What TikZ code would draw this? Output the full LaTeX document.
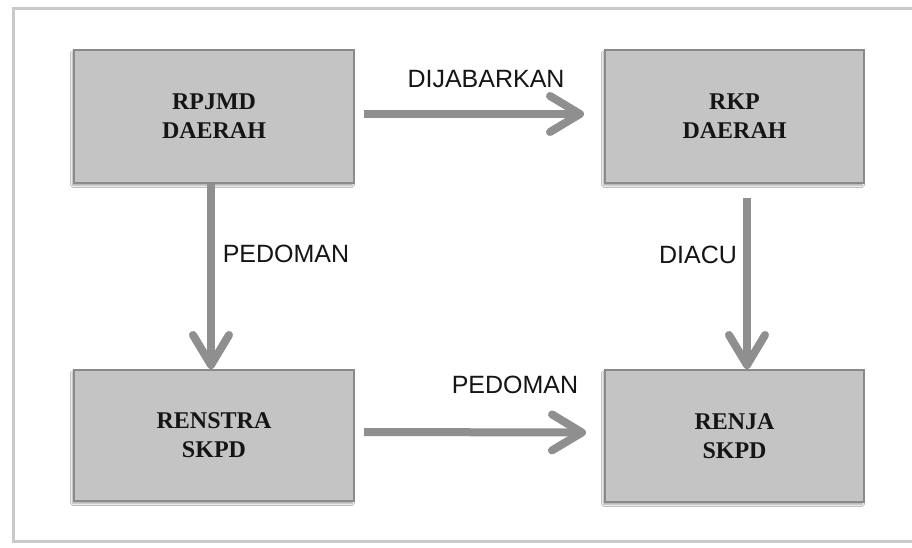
\documentclass[tikz,border=0pt]{standalone}
\usepackage{fontspec}
\setmainfont{Liberation Serif}
\setsansfont{Liberation Sans}
\usetikzlibrary{arrows.meta,shadows.blur}
\definecolor{boxfill}{HTML}{C4C4C4}
\definecolor{boxline}{HTML}{8A8A8A}
\definecolor{arrcol}{HTML}{8F8F8F}
\definecolor{framecol}{HTML}{C9C9C9}
\definecolor{txt}{HTML}{151515}
\tikzset{
  blok/.style={draw=boxline, fill=boxfill, line width=2pt, inner sep=0pt,
    minimum height=133pt, align=center, text=txt,
    font=\fontsize{24}{29}\selectfont\bfseries,
    blur shadow={shadow xshift=-1.5pt, shadow yshift=-2.5pt, shadow blur steps=6, shadow opacity=35}},
  arr/.style={draw=arrcol, line width=8pt,
    -{Straight Barb[length=30pt, width=36pt, round]}},
  lbl/.style={inner sep=0pt, text=txt, font=\sffamily\fontsize{25}{30}\selectfont}
}
\begin{document}
\begin{tikzpicture}[x=1pt, y=-1pt]
\useasboundingbox (0,0) rectangle (912,547);
\fill[white] (0,0) rectangle (912,547);
% outer frame
\draw[framecol, line width=3pt] (912,8) -- (13,8) -- (13,541) -- (912,541);
% boxes
\node[blok, minimum width=280pt] (A) at (214,116.5) {RPJMD\\DAERAH};
\node[blok, minimum width=259pt] (B) at (734.5,116.5) {RKP\\DAERAH};
\node[blok, minimum width=280pt, minimum height=131pt] (C) at (214,435.5) {RENSTRA\\SKPD};
\node[blok, minimum width=259pt, minimum height=132pt] (D) at (734.5,436) {RENJA\\SKPD};
% connectors
\draw[arr] ([xshift=9pt,yshift=2.5pt]A.east) -- ([xshift=-20pt,yshift=2.5pt]B.west);
\draw[arr] ([xshift=-3pt]A.south) -- ([xshift=-3pt]C.north);
\draw[arr] ([xshift=12.5pt,yshift=-14pt]B.south) -- ([xshift=12.5pt]D.north);
\draw[arr] ([xshift=9pt,yshift=3.5pt]C.east) -- ([xshift=-18pt,yshift=3.5pt]D.west);
% labels
\node[lbl] (l1) at (486,79) {DIJABARKAN};
\node[lbl] (l2) at (286,254) {PEDOMAN};
\node[lbl] (l3) at (698,255) {DIACU};
\node[lbl] (l4) at (515,385) {PEDOMAN};
\end{tikzpicture}
\end{document}
